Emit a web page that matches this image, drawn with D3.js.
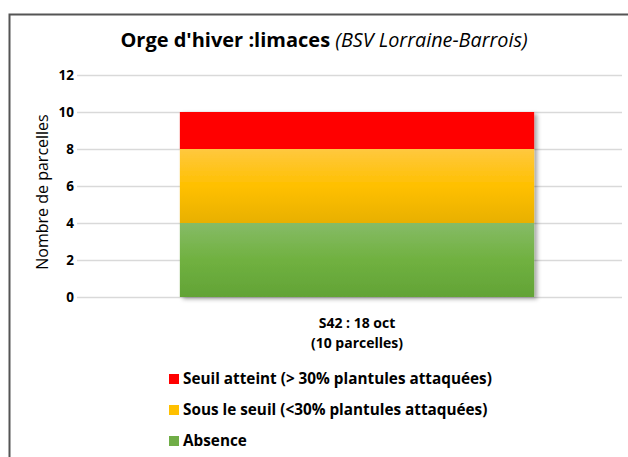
<!DOCTYPE html>
<html><head><meta charset="utf-8">
<script src="https://cdn.jsdelivr.net/npm/d3@7"></script>
<style>body{margin:0;background:#fff}svg{display:block}text{font-family:"Open Sans","Liberation Sans",sans-serif}</style>
</head><body><svg id="c" width="628" height="457"></svg>
<script>
const categories = ["S42 : 18 oct|(10 parcelles)"];
const seriesNames = ["Absence", "Sous le seuil (<30% plantules attaquées)", "Seuil atteint (> 30% plantules attaquées)"];
const absence = [4];
const sousSeuil = [4];
const seuilAtteint = [2];
const yTicks = [0, 2, 4, 6, 8, 10, 12];

const svg = d3.select("#c");
const defs = svg.append("defs");
function grad(id, stops){
  const g = defs.append("linearGradient").attr("id", id).attr("x1",0).attr("y1",0).attr("x2",0).attr("y2",1);
  stops.forEach(s=>g.append("stop").attr("offset",s[0]).attr("stop-color",s[1]));
}
grad("gY", [[0,"#FFC83F"],[0.5,"#FFC000"],[1,"#E8B000"]]);
grad("gG", [[0,"#86BB66"],[0.5,"#70B140"],[1,"#62A336"]]);
grad("gR", [[0,"#FF0000"],[1,"#FF0000"]]);
const fills = ["url(#gG)","url(#gY)","url(#gR)"];
const legendColors = ["#70AD47","#FFC000","#FF0000"];
const f = defs.append("filter").attr("id","sh").attr("x","-10%").attr("y","-10%").attr("width","130%").attr("height","130%");
f.append("feDropShadow").attr("dx",3).attr("dy",2).attr("stdDeviation",2).attr("flood-color","#000").attr("flood-opacity",0.35);

// frame
svg.append("path").attr("d","M9.5,460 V14.5 H640").attr("fill","none").attr("stroke","#555").attr("stroke-width",2);

// title
const t = svg.append("text").attr("x",324).attr("y",47).attr("text-anchor","middle").attr("font-size",20).attr("fill","#000");
t.append("tspan").attr("font-weight","bold").text("Orge d'hiver :limaces ");
t.append("tspan").attr("font-style","italic").attr("font-size",19.8).text("(BSV Lorraine-Barrois)");

const y = d3.scaleLinear().domain([0,12]).range([297,75]);
const x = d3.scaleBand().domain(categories).range([77,637]).paddingInner(0.225).paddingOuter(0.225);

// grid
svg.append("g").selectAll("line").data(yTicks).join("line")
  .attr("x1",77).attr("x2",622).attr("y1",d=>y(d)+0.5).attr("y2",d=>y(d)+0.5)
  .attr("stroke","#D9D9D9").attr("stroke-width",1.5);

// y axis labels
const ya = svg.append("g").attr("transform","translate(77,0)").call(d3.axisLeft(y).tickValues(yTicks).tickSize(0).tickPadding(3));
ya.select(".domain").remove();
ya.selectAll("text").attr("font-size",13.5).attr("font-weight","bold").attr("fill","#000").style("font-family","'Open Sans',sans-serif");

svg.append("text").attr("transform","translate(48,192) rotate(-90)").attr("text-anchor","middle")
  .attr("font-size",16).attr("fill","#000").text("Nombre de parcelles");

// stacked bars
const rows = categories.map((c,i)=>({cat:c, a:absence[i], b:sousSeuil[i], c2:seuilAtteint[i]}));
const stack = d3.stack().keys(["a","b","c2"])(rows);
const bars = svg.append("g").attr("filter","url(#sh)");
stack.forEach((s,k)=>{
  bars.selectAll(null).data(s).join("rect")
    .attr("x",d=>x(d.data.cat)).attr("width",x.bandwidth())
    .attr("y",d=>y(d[1])).attr("height",d=>y(d[0])-y(d[1]))
    .attr("fill",fills[k]);
});

// x labels
categories.forEach(c=>{
  const parts = c.split("|");
  parts.forEach((p,i)=>svg.append("text").attr("x",x(c)+x.bandwidth()/2).attr("y",328+i*19.5)
    .attr("text-anchor","middle").attr("font-size",14).attr("font-weight","bold").attr("fill","#000").text(p));
});

// legend
const order = [2,1,0];
order.forEach((k,i)=>{
  const yy = 384 + i*31;
  svg.append("rect").attr("x",169).attr("y",yy-10).attr("width",10).attr("height",10).attr("fill",legendColors[k]);
  svg.append("text").attr("x",183).attr("y",yy).attr("font-size",15.3).attr("font-weight","bold").attr("fill","#000").text(seriesNames[k]);
});
</script></body></html>
